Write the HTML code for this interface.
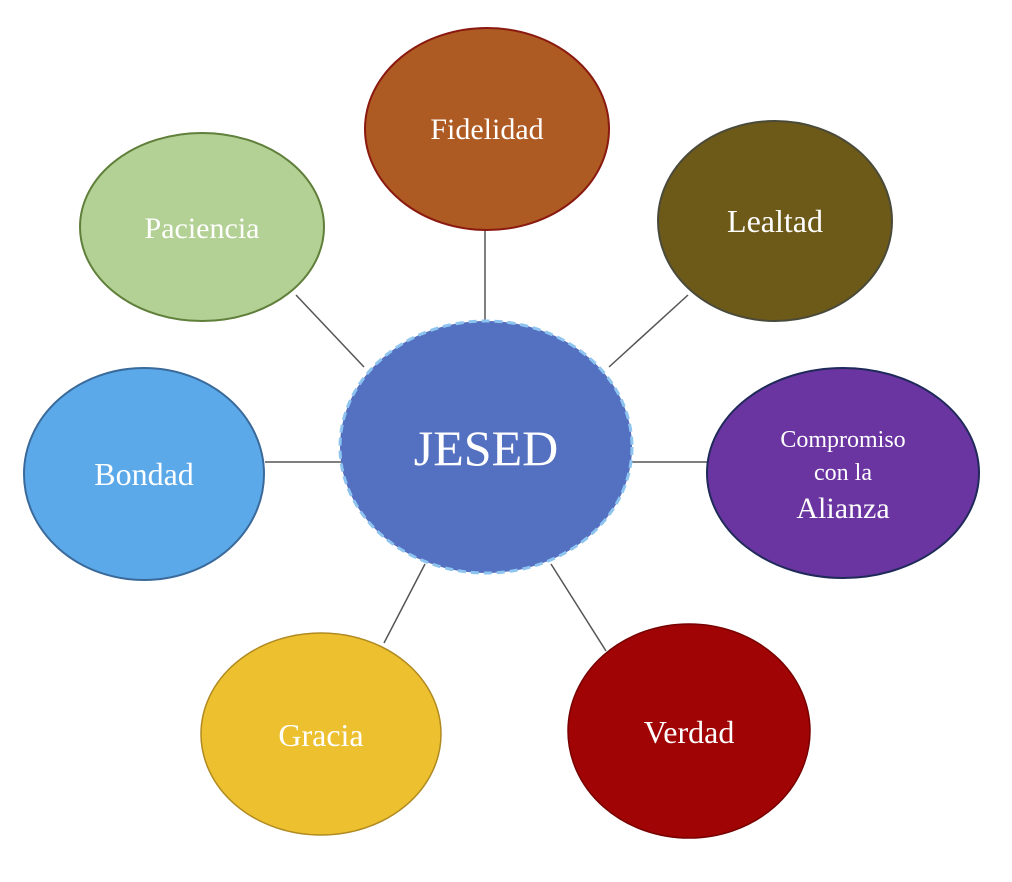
<!DOCTYPE html>
<html><head><meta charset="utf-8"><style>
html,body{margin:0;padding:0;background:#fff;width:1012px;height:882px;overflow:hidden}
svg text{font-family:"Liberation Serif",serif;fill:#fff;text-anchor:middle}
</style></head><body>
<svg width="1012" height="882" viewBox="0 0 1012 882" xmlns="http://www.w3.org/2000/svg">
<g stroke="#555" stroke-width="1.5">
<line x1="485" y1="230" x2="485" y2="322"/>
<line x1="688" y1="295" x2="609" y2="367"/>
<line x1="296" y1="295" x2="364" y2="367"/>
<line x1="265" y1="462" x2="341" y2="462"/>
<line x1="631" y1="462" x2="708" y2="462"/>
<line x1="384" y1="643" x2="425" y2="564"/>
<line x1="551" y1="564" x2="606" y2="651"/>
</g>
<ellipse cx="487" cy="129" rx="122" ry="101" fill="#AD5A23" stroke="#8a1a10" stroke-width="2"/>
<ellipse cx="775" cy="221" rx="117" ry="100" fill="#6E5A18" stroke="#4a4a3a" stroke-width="2"/>
<ellipse cx="202" cy="227" rx="122" ry="94" fill="#B3D194" stroke="#5f7f3a" stroke-width="2"/>
<ellipse cx="144" cy="474" rx="120" ry="106" fill="#5CA9EA" stroke="#3a6a9a" stroke-width="2"/>
<ellipse cx="843" cy="473" rx="136" ry="105" fill="#6A35A0" stroke="#202a5a" stroke-width="2"/>
<ellipse cx="321" cy="734" rx="120" ry="101" fill="#EDC030" stroke="#b08a20" stroke-width="1.5"/>
<ellipse cx="689" cy="731" rx="121" ry="107" fill="#A00404" stroke="#700" stroke-width="1.5"/>
<ellipse cx="486" cy="447" rx="146" ry="126" fill="#5470C0" stroke="#8ec4f0" stroke-width="3" stroke-dasharray="8,5"/>
<text x="487" y="139" font-size="30">Fidelidad</text>
<text x="775" y="232" font-size="32">Lealtad</text>
<text x="202" y="238" font-size="30">Paciencia</text>
<text x="144" y="485" font-size="32">Bondad</text>
<text x="843" y="447" font-size="24">Compromiso</text>
<text x="843" y="480" font-size="24">con la</text>
<text x="843" y="518" font-size="30">Alianza</text>
<text x="321" y="746" font-size="32">Gracia</text>
<text x="689" y="743" font-size="32">Verdad</text>
<text x="486" y="465" font-size="50">JESED</text>
</svg>
</body></html>
